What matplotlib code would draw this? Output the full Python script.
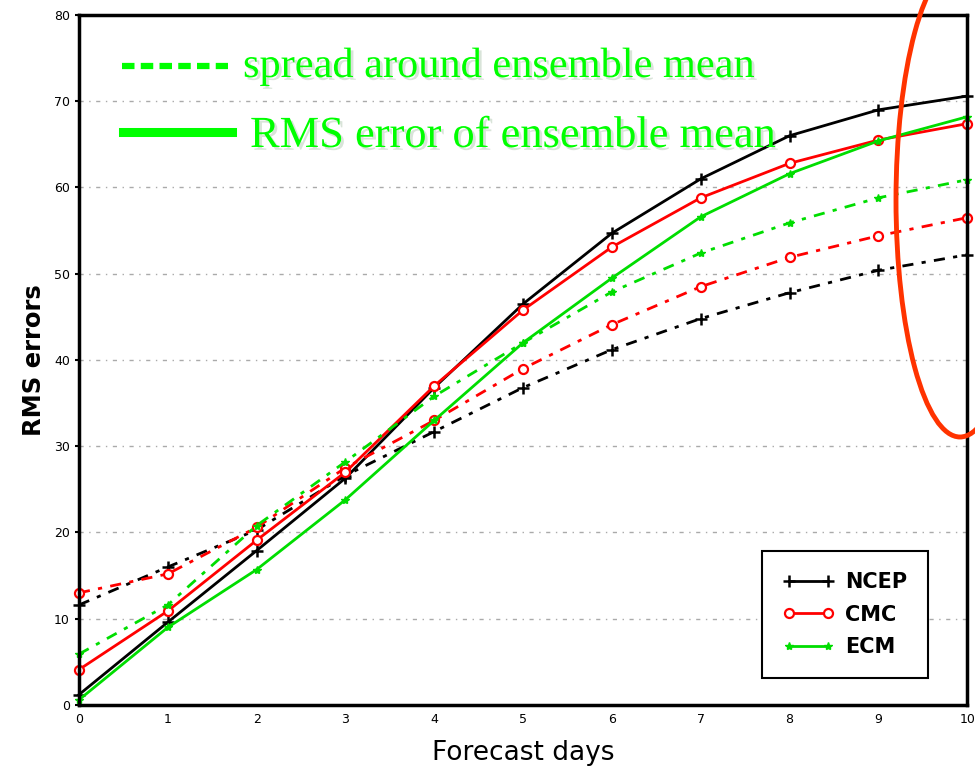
import matplotlib
matplotlib.use("Agg")
import matplotlib.pyplot as plt
import matplotlib.patheffects as pe
from matplotlib.patches import Ellipse

# forecast lead time (days)
days = [0, 1, 2, 3, 4, 5, 6, 7, 8, 9, 10]

# RMS error of ensemble mean (solid lines)
ncep_rms = [1.2, 9.6, 17.9, 26.3, 36.8, 46.5, 54.7, 61.0, 66.0, 69.0, 70.6]
cmc_rms = [4.1, 10.9, 19.1, 27.0, 37.0, 45.8, 53.1, 58.8, 62.8, 65.5, 67.4]
ecm_rms = [0.6, 9.0, 15.7, 23.8, 33.0, 42.0, 49.5, 56.6, 61.6, 65.4, 68.2]

# spread around ensemble mean (dotted lines)
ncep_spread = [11.6, 16.0, 20.3, 26.6, 31.7, 36.8, 41.2, 44.8, 47.8, 50.4, 52.2]
cmc_spread = [13.0, 15.2, 20.6, 27.5, 33.0, 39.0, 44.1, 48.5, 51.9, 54.4, 56.5]
ecm_spread = [5.9, 11.6, 20.8, 28.2, 35.8, 42.0, 47.9, 52.4, 55.9, 58.8, 60.9]

y_ticks = [0, 10, 20, 30, 40, 50, 60, 70, 80]

GREEN = "#00dd00"
dotted = (0, (4, 3, 1.5, 3))

fig = plt.figure(figsize=(9.75, 7.72), dpi=100)
ax = fig.add_axes([0.081, 0.0868, 0.911, 0.8938])

styles = [
    ("NCEP", ncep_rms, ncep_spread, "black", dict(marker="+", ms=8, mew=1.8)),
    ("CMC", cmc_rms, cmc_spread, "red", dict(marker="o", ms=6.5, mew=1.6, mfc="white")),
    ("ECM", ecm_rms, ecm_spread, GREEN, dict(marker="*", ms=6, mew=1.0)),
]

for name, rms, spread, col, mk in styles:
    ax.plot(days, spread, color=col, lw=2, linestyle=dotted, clip_on=False, **mk)
    ax.plot(days, rms, color=col, lw=2, label=name, clip_on=False, **mk)

ax.set_xlim(0, 10)
ax.set_ylim(0, 80)
ax.set_xticks(days)
ax.set_yticks(y_ticks)
ax.tick_params(axis="both", labelsize=9, direction="out", length=3, width=1.5)
ax.tick_params(axis="x", pad=6, length=0)
for s in ax.spines.values():
    s.set_linewidth(2.5)

for v in y_ticks[1:-1]:
    ax.axhline(v, color="#aaaaaa", lw=1, linestyle=(0, (3, 4, 1, 4)), zorder=0)

ax.set_xlabel("Forecast days", fontsize=19, labelpad=10)
ax.set_ylabel("RMS errors", fontsize=17.5, fontweight="bold", labelpad=6)

leg = ax.legend(loc="lower right", bbox_to_anchor=(0.956, 0.039), numpoints=2,
                fancybox=False, framealpha=1, edgecolor="black",
                prop={"size": 15, "weight": "bold"}, handlelength=2.5,
                borderpad=1.0, labelspacing=0.6, handletextpad=0.5,
                borderaxespad=0)
leg.get_frame().set_linewidth(1.5)

# overlay annotation (pixel coords, y from top)
W, H = 975, 772
shadow = [pe.withSimplePatchShadow(offset=(2, -2), alpha=0.15)]
fig.text(243 / W, 1 - 77 / H, "spread around ensemble mean", color="#00ff00",
         fontsize=30.5, family="Liberation Serif", va="baseline", path_effects=shadow)
fig.text(250 / W, 1 - 147 / H, "RMS error of ensemble mean", color="#00ff00",
         fontsize=32, family="Liberation Serif", va="baseline", path_effects=shadow)
fig.add_artist(plt.Line2D([122 / W, 228 / W], [1 - 66 / H, 1 - 66 / H],
                          color="#00ff00", lw=4.5, linestyle=(0, (2, 1)),
                          transform=fig.transFigure))
fig.add_artist(plt.Line2D([123 / W, 232 / W], [1 - 132 / H, 1 - 132 / H],
                          color="#00ff00", lw=6.5, transform=fig.transFigure))

# red ellipse highlighting day 9-10
fig.add_artist(Ellipse((960 / W, 1 - 200 / H), 128 / W, 474 / H,
                       fill=False, edgecolor="#ff3300", lw=3.5,
                       transform=fig.transFigure))

fig.savefig("out.png", dpi=100)
